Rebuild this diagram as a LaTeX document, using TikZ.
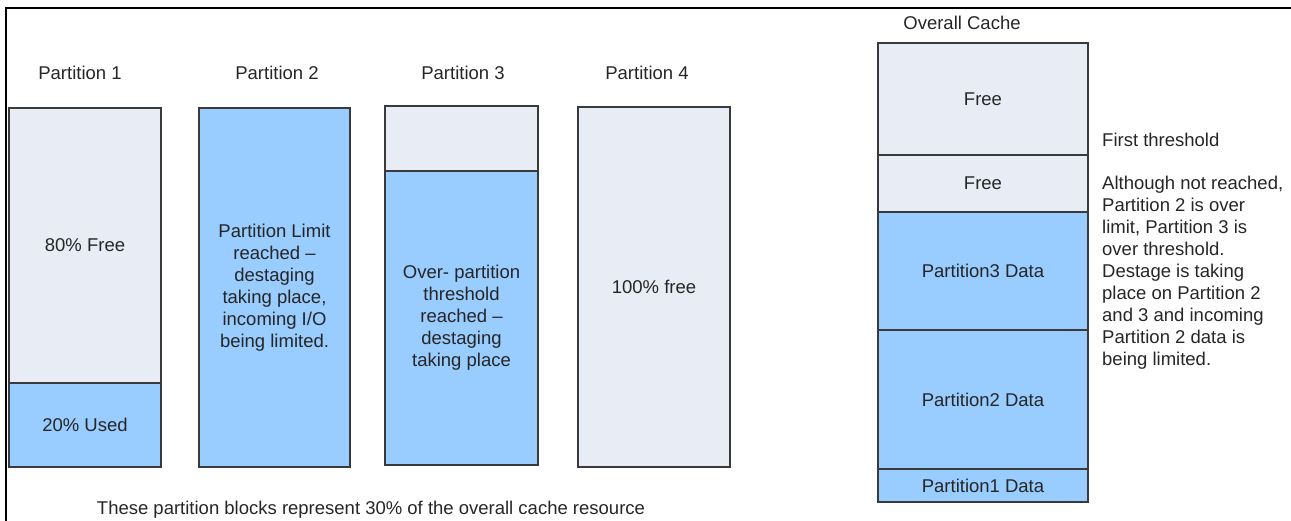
\documentclass[tikz,border=0pt]{standalone}
\usepackage{fontspec}
\setmainfont{Liberation Sans}
\definecolor{freefill}{HTML}{E8ECF5}
\definecolor{usedfill}{HTML}{99CCFF}
\definecolor{cellline}{HTML}{3A3A3A}
\definecolor{inktext}{HTML}{262626}
\tikzset{
  cell/.style={draw=cellline, line width=1.6pt, anchor=north west, inner sep=0pt, outer sep=0pt,
    align=center, text=inktext, font=\fontsize{18.5}{22}\selectfont},
  freecell/.style={cell, fill=freefill},
  usedcell/.style={cell, fill=usedfill},
  caption/.style={text=inktext, inner sep=0pt, font=\fontsize{18.5}{22}\selectfont},
}
% #1 style, #2 name, #3 top-left corner, #4 width, #5 height, #6 text
\newcommand{\cellbox}[6]{\node[#1, minimum width=#4pt, minimum height=#5pt] (#2) at #3 {#6};}

\begin{document}
\begin{tikzpicture}[x=1pt,y=-1pt]
  \useasboundingbox (0,0) rectangle (1291,521);
  \draw[line width=2pt] (6,521) -- (6,8) -- (1291,8);

  % partition blocks
  \cellbox{freecell}{p1free}{(9,108)}{152}{275}{80\% Free}
  \cellbox{usedcell}{p1used}{(9,383)}{152}{84}{20\% Used}
  \cellbox{usedcell}{p2used}{(199,108)}{151}{359}{Partition Limit\\reached –\\destaging\\taking place,\\incoming I/O\\being limited.}
  \cellbox{freecell}{p3free}{(385,106)}{153}{65}{}
  \cellbox{usedcell}{p3used}{(385,171)}{153}{294}{Over- partition\\threshold\\reached –\\destaging\\taking place}
  \cellbox{freecell}{p4free}{(578,107)}{152}{360}{100\% free}

  \node[caption] (t1) at (80,73) {Partition 1};
  \node[caption] (t2) at (277,73) {Partition 2};
  \node[caption] (t3) at (463,73) {Partition 3};
  \node[caption] (t4) at (647,73) {Partition 4};
  \node[caption] (note) at (371,510) {These partition blocks represent 30\% of the overall cache resource};

  % overall cache
  \node[caption] (tcache) at (962,23) {Overall Cache};
  \cellbox{freecell}{cfree1}{(878,43)}{210}{112}{Free}
  \cellbox{freecell}{cfree2}{(878,155)}{210}{57}{Free}
  \cellbox{usedcell}{cdata3}{(878,212)}{210}{118}{Partition3 Data}
  \cellbox{usedcell}{cdata2}{(878,330)}{210}{139}{Partition2 Data}
  \cellbox{usedcell}{cdata1}{(878,469)}{210}{33}{Partition1 Data}

  \node[caption, anchor=west] (first) at (1102,140) {First threshold};
  \node[caption, anchor=north west, align=left] (expl) at (1102,176) {Although not reached,\\Partition 2 is over\\limit, Partition 3 is\\over threshold.\\Destage is taking\\place on Partition 2\\and 3 and incoming\\Partition 2 data is\\being limited.};
\end{tikzpicture}
\end{document}
